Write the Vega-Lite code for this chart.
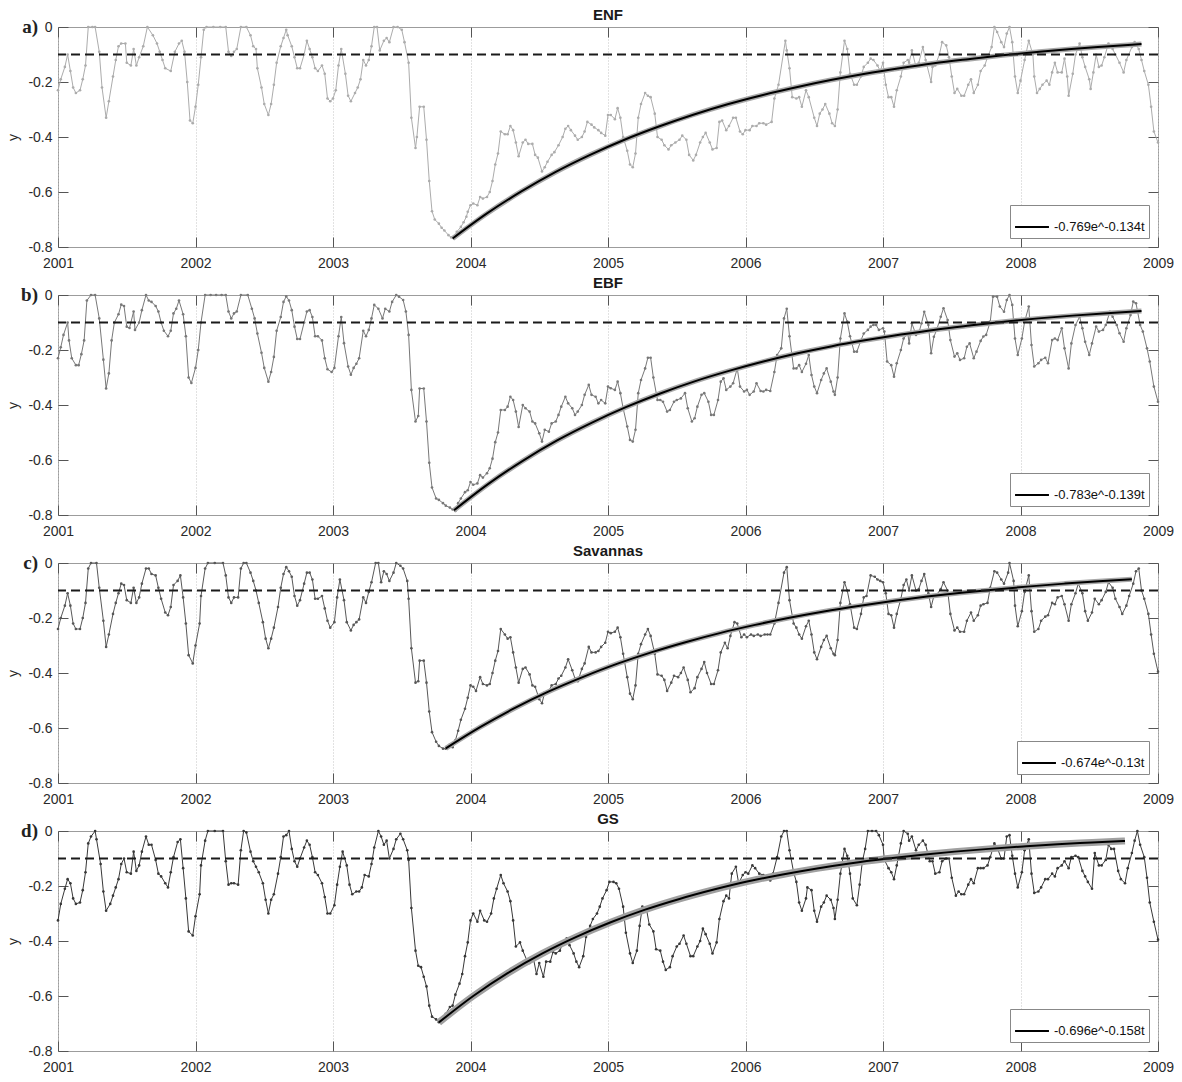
{
"$schema":"https://vega.github.io/schema/vega-lite/v6.json",
"background":"white",
"padding":{"left":6,"top":7,"right":2,"bottom":0},
"spacing":4,
"config":{
"font":"Liberation Sans",
"view":{"stroke":"#9c9c9c","strokeWidth":1},
"title":{"fontSize":15,"fontWeight":"bold","color":"#1a1a1a","offset":-5,"font":"Liberation Sans"},
"axis":{"domain":false,"tickColor":"#555","tickSize":-10,"labelFontSize":14,"labelColor":"#2a2a2a","labelFont":"Liberation Sans","titleFont":"Liberation Sans","titleFontSize":14,"titleFontWeight":"normal","titleColor":"#2a2a2a","grid":false},
"legend":{"orient":"bottom-right","offset":9,"padding":4,"strokeColor":"#888","fillColor":"white","labelFontSize":13,"labelFont":"Liberation Sans","labelColor":"#111","symbolType":"stroke","symbolStrokeWidth":2,"symbolSize":1150,"labelLimit":300,"cornerRadius":0}
},
"datasets":{
"a":[{"t":2001.00,"y":-0.23},{"t":2001.02,"y":-0.19},{"t":2001.05,"y":-0.145},{"t":2001.07,"y":-0.10},{"t":2001.09,"y":-0.16},{"t":2001.11,"y":-0.22},{"t":2001.13,"y":-0.24},{"t":2001.16,"y":-0.23},{"t":2001.18,"y":-0.19},{"t":2001.20,"y":-0.14},{"t":2001.22,"y":0},{"t":2001.25,"y":0},{"t":2001.27,"y":0},{"t":2001.30,"y":-0.09},{"t":2001.32,"y":-0.22},{"t":2001.35,"y":-0.33},{"t":2001.37,"y":-0.27},{"t":2001.40,"y":-0.18},{"t":2001.42,"y":-0.12},{"t":2001.44,"y":-0.07},{"t":2001.46,"y":-0.06},{"t":2001.49,"y":-0.06},{"t":2001.50,"y":-0.13},{"t":2001.53,"y":-0.14},{"t":2001.55,"y":-0.08},{"t":2001.57,"y":-0.14},{"t":2001.59,"y":-0.11},{"t":2001.62,"y":-0.07},{"t":2001.65,"y":0},{"t":2001.69,"y":-0.03},{"t":2001.72,"y":-0.06},{"t":2001.74,"y":-0.09},{"t":2001.76,"y":-0.12},{"t":2001.78,"y":-0.15},{"t":2001.82,"y":-0.16},{"t":2001.85,"y":-0.09},{"t":2001.88,"y":-0.06},{"t":2001.90,"y":-0.05},{"t":2001.92,"y":-0.09},{"t":2001.94,"y":-0.20},{"t":2001.96,"y":-0.34},{"t":2001.98,"y":-0.35},{"t":2002.00,"y":-0.29},{"t":2002.02,"y":-0.21},{"t":2002.04,"y":-0.11},{"t":2002.06,"y":-0.01},{"t":2002.08,"y":0},{"t":2002.13,"y":0},{"t":2002.18,"y":0},{"t":2002.22,"y":0},{"t":2002.24,"y":-0.09},{"t":2002.26,"y":-0.105},{"t":2002.28,"y":-0.09},{"t":2002.30,"y":-0.08},{"t":2002.33,"y":0},{"t":2002.37,"y":0},{"t":2002.40,"y":-0.03},{"t":2002.42,"y":-0.07},{"t":2002.44,"y":-0.08},{"t":2002.45,"y":-0.15},{"t":2002.48,"y":-0.22},{"t":2002.50,"y":-0.28},{"t":2002.53,"y":-0.32},{"t":2002.55,"y":-0.28},{"t":2002.57,"y":-0.21},{"t":2002.59,"y":-0.13},{"t":2002.62,"y":-0.07},{"t":2002.64,"y":-0.04},{"t":2002.66,"y":-0.01},{"t":2002.67,"y":-0.03},{"t":2002.70,"y":-0.07},{"t":2002.72,"y":-0.11},{"t":2002.74,"y":-0.15},{"t":2002.76,"y":-0.15},{"t":2002.79,"y":-0.10},{"t":2002.81,"y":-0.05},{"t":2002.83,"y":-0.08},{"t":2002.85,"y":-0.11},{"t":2002.87,"y":-0.15},{"t":2002.89,"y":-0.16},{"t":2002.92,"y":-0.14},{"t":2002.94,"y":-0.17},{"t":2002.96,"y":-0.26},{"t":2002.98,"y":-0.27},{"t":2003.00,"y":-0.26},{"t":2003.02,"y":-0.23},{"t":2003.04,"y":-0.14},{"t":2003.06,"y":-0.08},{"t":2003.09,"y":-0.17},{"t":2003.11,"y":-0.25},{"t":2003.13,"y":-0.27},{"t":2003.16,"y":-0.24},{"t":2003.18,"y":-0.22},{"t":2003.20,"y":-0.19},{"t":2003.22,"y":-0.12},{"t":2003.24,"y":-0.14},{"t":2003.26,"y":-0.12},{"t":2003.28,"y":-0.07},{"t":2003.30,"y":0},{"t":2003.32,"y":0},{"t":2003.34,"y":-0.085},{"t":2003.37,"y":-0.05},{"t":2003.39,"y":-0.04},{"t":2003.41,"y":-0.055},{"t":2003.44,"y":0},{"t":2003.47,"y":0},{"t":2003.50,"y":-0.01},{"t":2003.52,"y":-0.055},{"t":2003.55,"y":-0.13},{"t":2003.57,"y":-0.33},{"t":2003.60,"y":-0.44},{"t":2003.61,"y":-0.40},{"t":2003.63,"y":-0.29},{"t":2003.66,"y":-0.29},{"t":2003.68,"y":-0.41},{"t":2003.70,"y":-0.56},{"t":2003.72,"y":-0.67},{"t":2003.74,"y":-0.70},{"t":2003.77,"y":-0.715},{"t":2003.79,"y":-0.73},{"t":2003.81,"y":-0.74},{"t":2003.84,"y":-0.757},{"t":2003.86,"y":-0.765},{"t":2003.88,"y":-0.77},{"t":2003.90,"y":-0.745},{"t":2003.93,"y":-0.727},{"t":2003.95,"y":-0.71},{"t":2003.97,"y":-0.69},{"t":2003.98,"y":-0.672},{"t":2004.00,"y":-0.648},{"t":2004.02,"y":-0.642},{"t":2004.05,"y":-0.648},{"t":2004.07,"y":-0.618},{"t":2004.09,"y":-0.624},{"t":2004.12,"y":-0.618},{"t":2004.14,"y":-0.60},{"t":2004.16,"y":-0.56},{"t":2004.18,"y":-0.50},{"t":2004.20,"y":-0.46},{"t":2004.22,"y":-0.38},{"t":2004.25,"y":-0.39},{"t":2004.27,"y":-0.39},{"t":2004.29,"y":-0.36},{"t":2004.31,"y":-0.375},{"t":2004.33,"y":-0.42},{"t":2004.35,"y":-0.47},{"t":2004.38,"y":-0.42},{"t":2004.40,"y":-0.41},{"t":2004.42,"y":-0.425},{"t":2004.45,"y":-0.425},{"t":2004.47,"y":-0.465},{"t":2004.49,"y":-0.475},{"t":2004.52,"y":-0.525},{"t":2004.54,"y":-0.51},{"t":2004.56,"y":-0.49},{"t":2004.59,"y":-0.465},{"t":2004.61,"y":-0.455},{"t":2004.64,"y":-0.43},{"t":2004.67,"y":-0.40},{"t":2004.69,"y":-0.37},{"t":2004.71,"y":-0.36},{"t":2004.73,"y":-0.375},{"t":2004.76,"y":-0.395},{"t":2004.78,"y":-0.41},{"t":2004.81,"y":-0.40},{"t":2004.83,"y":-0.38},{"t":2004.85,"y":-0.345},{"t":2004.88,"y":-0.355},{"t":2004.90,"y":-0.365},{"t":2004.93,"y":-0.375},{"t":2004.95,"y":-0.385},{"t":2004.98,"y":-0.395},{"t":2005.00,"y":-0.32},{"t":2005.02,"y":-0.32},{"t":2005.05,"y":-0.335},{"t":2005.07,"y":-0.295},{"t":2005.09,"y":-0.33},{"t":2005.11,"y":-0.40},{"t":2005.14,"y":-0.45},{"t":2005.16,"y":-0.50},{"t":2005.18,"y":-0.51},{"t":2005.20,"y":-0.46},{"t":2005.22,"y":-0.33},{"t":2005.24,"y":-0.28},{"t":2005.27,"y":-0.24},{"t":2005.29,"y":-0.25},{"t":2005.31,"y":-0.255},{"t":2005.34,"y":-0.315},{"t":2005.36,"y":-0.40},{"t":2005.39,"y":-0.41},{"t":2005.41,"y":-0.43},{"t":2005.44,"y":-0.445},{"t":2005.46,"y":-0.43},{"t":2005.49,"y":-0.42},{"t":2005.52,"y":-0.41},{"t":2005.54,"y":-0.395},{"t":2005.57,"y":-0.41},{"t":2005.59,"y":-0.465},{"t":2005.62,"y":-0.485},{"t":2005.64,"y":-0.465},{"t":2005.67,"y":-0.42},{"t":2005.69,"y":-0.40},{"t":2005.71,"y":-0.385},{"t":2005.74,"y":-0.42},{"t":2005.76,"y":-0.445},{"t":2005.79,"y":-0.44},{"t":2005.81,"y":-0.345},{"t":2005.83,"y":-0.34},{"t":2005.86,"y":-0.375},{"t":2005.88,"y":-0.36},{"t":2005.91,"y":-0.33},{"t":2005.93,"y":-0.33},{"t":2005.96,"y":-0.38},{"t":2005.98,"y":-0.39},{"t":2006.00,"y":-0.375},{"t":2006.03,"y":-0.375},{"t":2006.05,"y":-0.36},{"t":2006.08,"y":-0.36},{"t":2006.10,"y":-0.35},{"t":2006.13,"y":-0.35},{"t":2006.15,"y":-0.355},{"t":2006.19,"y":-0.345},{"t":2006.21,"y":-0.26},{"t":2006.24,"y":-0.21},{"t":2006.29,"y":-0.05},{"t":2006.30,"y":-0.085},{"t":2006.32,"y":-0.15},{"t":2006.34,"y":-0.255},{"t":2006.37,"y":-0.26},{"t":2006.39,"y":-0.255},{"t":2006.41,"y":-0.29},{"t":2006.44,"y":-0.23},{"t":2006.46,"y":-0.255},{"t":2006.50,"y":-0.33},{"t":2006.52,"y":-0.36},{"t":2006.54,"y":-0.315},{"t":2006.56,"y":-0.30},{"t":2006.58,"y":-0.28},{"t":2006.61,"y":-0.315},{"t":2006.63,"y":-0.35},{"t":2006.65,"y":-0.36},{"t":2006.67,"y":-0.30},{"t":2006.69,"y":-0.165},{"t":2006.72,"y":-0.05},{"t":2006.74,"y":-0.08},{"t":2006.76,"y":-0.17},{"t":2006.79,"y":-0.21},{"t":2006.81,"y":-0.21},{"t":2006.84,"y":-0.18},{"t":2006.86,"y":-0.145},{"t":2006.89,"y":-0.13},{"t":2006.91,"y":-0.115},{"t":2006.93,"y":-0.12},{"t":2006.96,"y":-0.14},{"t":2006.98,"y":-0.16},{"t":2007.00,"y":-0.13},{"t":2007.02,"y":-0.21},{"t":2007.04,"y":-0.255},{"t":2007.06,"y":-0.255},{"t":2007.08,"y":-0.29},{"t":2007.10,"y":-0.23},{"t":2007.13,"y":-0.18},{"t":2007.15,"y":-0.13},{"t":2007.18,"y":-0.12},{"t":2007.19,"y":-0.13},{"t":2007.21,"y":-0.085},{"t":2007.24,"y":-0.145},{"t":2007.26,"y":-0.13},{"t":2007.29,"y":-0.073},{"t":2007.31,"y":-0.12},{"t":2007.35,"y":-0.20},{"t":2007.36,"y":-0.145},{"t":2007.38,"y":-0.14},{"t":2007.41,"y":-0.10},{"t":2007.43,"y":-0.055},{"t":2007.46,"y":-0.067},{"t":2007.48,"y":-0.11},{"t":2007.50,"y":-0.18},{"t":2007.52,"y":-0.24},{"t":2007.54,"y":-0.225},{"t":2007.57,"y":-0.25},{"t":2007.59,"y":-0.25},{"t":2007.62,"y":-0.21},{"t":2007.64,"y":-0.19},{"t":2007.66,"y":-0.24},{"t":2007.69,"y":-0.21},{"t":2007.71,"y":-0.16},{"t":2007.74,"y":-0.14},{"t":2007.76,"y":-0.11},{"t":2007.79,"y":-0.073},{"t":2007.81,"y":0},{"t":2007.83,"y":-0.018},{"t":2007.86,"y":-0.055},{"t":2007.88,"y":-0.073},{"t":2007.90,"y":-0.024},{"t":2007.92,"y":0},{"t":2007.94,"y":-0.055},{"t":2007.96,"y":-0.18},{"t":2007.98,"y":-0.24},{"t":2008.00,"y":-0.195},{"t":2008.03,"y":-0.12},{"t":2008.06,"y":-0.05},{"t":2008.09,"y":-0.10},{"t":2008.10,"y":-0.18},{"t":2008.12,"y":-0.24},{"t":2008.14,"y":-0.225},{"t":2008.16,"y":-0.21},{"t":2008.19,"y":-0.195},{"t":2008.21,"y":-0.21},{"t":2008.23,"y":-0.165},{"t":2008.25,"y":-0.13},{"t":2008.27,"y":-0.165},{"t":2008.30,"y":-0.165},{"t":2008.32,"y":-0.115},{"t":2008.34,"y":-0.18},{"t":2008.35,"y":-0.25},{"t":2008.38,"y":-0.17},{"t":2008.40,"y":-0.10},{"t":2008.43,"y":-0.06},{"t":2008.45,"y":-0.11},{"t":2008.47,"y":-0.145},{"t":2008.50,"y":-0.19},{"t":2008.51,"y":-0.225},{"t":2008.53,"y":-0.165},{"t":2008.55,"y":-0.10},{"t":2008.57,"y":-0.145},{"t":2008.59,"y":-0.14},{"t":2008.61,"y":-0.11},{"t":2008.64,"y":-0.06},{"t":2008.67,"y":-0.08},{"t":2008.69,"y":-0.10},{"t":2008.72,"y":-0.13},{"t":2008.75,"y":-0.165},{"t":2008.77,"y":-0.12},{"t":2008.81,"y":-0.073},{"t":2008.83,"y":-0.055},{"t":2008.86,"y":-0.08},{"t":2008.88,"y":-0.12},{"t":2008.90,"y":-0.16},{"t":2008.93,"y":-0.21},{"t":2008.95,"y":-0.29},{"t":2008.97,"y":-0.38},{"t":2009.00,"y":-0.42}],
"b":[{"t":2001.00,"y":-0.23},{"t":2001.02,"y":-0.19},{"t":2001.04,"y":-0.145},{"t":2001.07,"y":-0.10},{"t":2001.08,"y":-0.165},{"t":2001.10,"y":-0.23},{"t":2001.13,"y":-0.255},{"t":2001.15,"y":-0.255},{"t":2001.17,"y":-0.215},{"t":2001.19,"y":-0.165},{"t":2001.21,"y":-0.02},{"t":2001.24,"y":0},{"t":2001.27,"y":0},{"t":2001.30,"y":-0.085},{"t":2001.33,"y":-0.235},{"t":2001.35,"y":-0.34},{"t":2001.37,"y":-0.285},{"t":2001.39,"y":-0.165},{"t":2001.41,"y":-0.10},{"t":2001.44,"y":-0.07},{"t":2001.46,"y":-0.035},{"t":2001.48,"y":-0.04},{"t":2001.50,"y":-0.115},{"t":2001.52,"y":-0.12},{"t":2001.55,"y":-0.06},{"t":2001.56,"y":-0.127},{"t":2001.59,"y":-0.10},{"t":2001.61,"y":-0.055},{"t":2001.64,"y":0},{"t":2001.66,"y":-0.02},{"t":2001.68,"y":-0.025},{"t":2001.71,"y":-0.04},{"t":2001.73,"y":-0.06},{"t":2001.75,"y":-0.10},{"t":2001.77,"y":-0.13},{"t":2001.80,"y":-0.15},{"t":2001.82,"y":-0.13},{"t":2001.84,"y":-0.067},{"t":2001.86,"y":-0.05},{"t":2001.88,"y":-0.02},{"t":2001.91,"y":-0.07},{"t":2001.93,"y":-0.15},{"t":2001.95,"y":-0.30},{"t":2001.97,"y":-0.32},{"t":2002.00,"y":-0.265},{"t":2002.02,"y":-0.20},{"t":2002.04,"y":-0.10},{"t":2002.07,"y":0},{"t":2002.11,"y":0},{"t":2002.15,"y":0},{"t":2002.19,"y":0},{"t":2002.22,"y":0},{"t":2002.24,"y":-0.06},{"t":2002.26,"y":-0.085},{"t":2002.28,"y":-0.067},{"t":2002.30,"y":-0.06},{"t":2002.33,"y":0},{"t":2002.38,"y":0},{"t":2002.41,"y":-0.05},{"t":2002.43,"y":-0.085},{"t":2002.45,"y":-0.14},{"t":2002.48,"y":-0.21},{"t":2002.50,"y":-0.265},{"t":2002.53,"y":-0.315},{"t":2002.55,"y":-0.28},{"t":2002.57,"y":-0.225},{"t":2002.59,"y":-0.13},{"t":2002.62,"y":-0.08},{"t":2002.64,"y":-0.025},{"t":2002.66,"y":-0.005},{"t":2002.68,"y":-0.02},{"t":2002.70,"y":-0.055},{"t":2002.72,"y":-0.115},{"t":2002.74,"y":-0.16},{"t":2002.76,"y":-0.16},{"t":2002.79,"y":-0.10},{"t":2002.81,"y":-0.06},{"t":2002.83,"y":-0.055},{"t":2002.85,"y":-0.08},{"t":2002.87,"y":-0.15},{"t":2002.89,"y":-0.15},{"t":2002.92,"y":-0.165},{"t":2002.94,"y":-0.23},{"t":2002.96,"y":-0.27},{"t":2002.99,"y":-0.28},{"t":2003.01,"y":-0.265},{"t":2003.04,"y":-0.15},{"t":2003.06,"y":-0.08},{"t":2003.08,"y":-0.175},{"t":2003.11,"y":-0.26},{"t":2003.13,"y":-0.29},{"t":2003.15,"y":-0.265},{"t":2003.17,"y":-0.25},{"t":2003.19,"y":-0.23},{"t":2003.22,"y":-0.13},{"t":2003.24,"y":-0.15},{"t":2003.26,"y":-0.127},{"t":2003.28,"y":-0.085},{"t":2003.30,"y":-0.036},{"t":2003.33,"y":-0.05},{"t":2003.36,"y":-0.085},{"t":2003.38,"y":-0.05},{"t":2003.41,"y":-0.06},{"t":2003.43,"y":-0.025},{"t":2003.46,"y":0},{"t":2003.48,"y":-0.006},{"t":2003.51,"y":-0.018},{"t":2003.53,"y":-0.06},{"t":2003.55,"y":-0.145},{"t":2003.57,"y":-0.345},{"t":2003.60,"y":-0.46},{"t":2003.62,"y":-0.44},{"t":2003.63,"y":-0.34},{"t":2003.66,"y":-0.34},{"t":2003.68,"y":-0.46},{"t":2003.70,"y":-0.61},{"t":2003.72,"y":-0.70},{"t":2003.75,"y":-0.74},{"t":2003.77,"y":-0.745},{"t":2003.80,"y":-0.757},{"t":2003.82,"y":-0.766},{"t":2003.85,"y":-0.773},{"t":2003.87,"y":-0.78},{"t":2003.89,"y":-0.785},{"t":2003.91,"y":-0.757},{"t":2003.93,"y":-0.74},{"t":2003.96,"y":-0.717},{"t":2003.98,"y":-0.71},{"t":2004.00,"y":-0.68},{"t":2004.02,"y":-0.69},{"t":2004.05,"y":-0.685},{"t":2004.07,"y":-0.655},{"t":2004.09,"y":-0.664},{"t":2004.12,"y":-0.648},{"t":2004.14,"y":-0.63},{"t":2004.16,"y":-0.595},{"t":2004.18,"y":-0.535},{"t":2004.20,"y":-0.50},{"t":2004.22,"y":-0.418},{"t":2004.25,"y":-0.418},{"t":2004.27,"y":-0.406},{"t":2004.29,"y":-0.37},{"t":2004.31,"y":-0.382},{"t":2004.33,"y":-0.424},{"t":2004.35,"y":-0.48},{"t":2004.38,"y":-0.40},{"t":2004.40,"y":-0.412},{"t":2004.43,"y":-0.424},{"t":2004.45,"y":-0.46},{"t":2004.47,"y":-0.467},{"t":2004.50,"y":-0.503},{"t":2004.52,"y":-0.533},{"t":2004.54,"y":-0.49},{"t":2004.57,"y":-0.497},{"t":2004.59,"y":-0.467},{"t":2004.62,"y":-0.46},{"t":2004.64,"y":-0.436},{"t":2004.66,"y":-0.406},{"t":2004.69,"y":-0.37},{"t":2004.71,"y":-0.394},{"t":2004.74,"y":-0.412},{"t":2004.76,"y":-0.436},{"t":2004.78,"y":-0.424},{"t":2004.81,"y":-0.40},{"t":2004.83,"y":-0.363},{"t":2004.86,"y":-0.327},{"t":2004.88,"y":-0.363},{"t":2004.91,"y":-0.37},{"t":2004.93,"y":-0.394},{"t":2004.95,"y":-0.382},{"t":2004.98,"y":-0.394},{"t":2005.00,"y":-0.333},{"t":2005.02,"y":-0.339},{"t":2005.05,"y":-0.345},{"t":2005.07,"y":-0.315},{"t":2005.09,"y":-0.357},{"t":2005.11,"y":-0.412},{"t":2005.14,"y":-0.478},{"t":2005.16,"y":-0.527},{"t":2005.18,"y":-0.533},{"t":2005.20,"y":-0.49},{"t":2005.22,"y":-0.357},{"t":2005.24,"y":-0.309},{"t":2005.27,"y":-0.267},{"t":2005.29,"y":-0.228},{"t":2005.31,"y":-0.228},{"t":2005.33,"y":-0.30},{"t":2005.36,"y":-0.382},{"t":2005.38,"y":-0.382},{"t":2005.40,"y":-0.388},{"t":2005.43,"y":-0.424},{"t":2005.45,"y":-0.418},{"t":2005.48,"y":-0.388},{"t":2005.50,"y":-0.382},{"t":2005.53,"y":-0.376},{"t":2005.56,"y":-0.357},{"t":2005.58,"y":-0.412},{"t":2005.61,"y":-0.46},{"t":2005.63,"y":-0.448},{"t":2005.65,"y":-0.406},{"t":2005.68,"y":-0.363},{"t":2005.70,"y":-0.357},{"t":2005.73,"y":-0.388},{"t":2005.75,"y":-0.436},{"t":2005.77,"y":-0.436},{"t":2005.80,"y":-0.382},{"t":2005.82,"y":-0.315},{"t":2005.84,"y":-0.303},{"t":2005.86,"y":-0.345},{"t":2005.89,"y":-0.333},{"t":2005.91,"y":-0.321},{"t":2005.94,"y":-0.267},{"t":2005.96,"y":-0.333},{"t":2005.99,"y":-0.351},{"t":2006.01,"y":-0.345},{"t":2006.03,"y":-0.363},{"t":2006.06,"y":-0.351},{"t":2006.08,"y":-0.321},{"t":2006.11,"y":-0.349},{"t":2006.13,"y":-0.351},{"t":2006.15,"y":-0.345},{"t":2006.18,"y":-0.349},{"t":2006.21,"y":-0.28},{"t":2006.23,"y":-0.218},{"t":2006.26,"y":-0.194},{"t":2006.28,"y":-0.085},{"t":2006.30,"y":-0.05},{"t":2006.32,"y":-0.15},{"t":2006.35,"y":-0.267},{"t":2006.37,"y":-0.267},{"t":2006.39,"y":-0.255},{"t":2006.41,"y":-0.28},{"t":2006.44,"y":-0.25},{"t":2006.46,"y":-0.218},{"t":2006.48,"y":-0.291},{"t":2006.50,"y":-0.333},{"t":2006.52,"y":-0.357},{"t":2006.55,"y":-0.309},{"t":2006.57,"y":-0.285},{"t":2006.59,"y":-0.267},{"t":2006.62,"y":-0.315},{"t":2006.64,"y":-0.351},{"t":2006.65,"y":-0.363},{"t":2006.67,"y":-0.30},{"t":2006.69,"y":-0.158},{"t":2006.72,"y":-0.067},{"t":2006.74,"y":-0.097},{"t":2006.76,"y":-0.15},{"t":2006.79,"y":-0.206},{"t":2006.81,"y":-0.206},{"t":2006.84,"y":-0.164},{"t":2006.86,"y":-0.14},{"t":2006.89,"y":-0.127},{"t":2006.91,"y":-0.115},{"t":2006.93,"y":-0.109},{"t":2006.95,"y":-0.109},{"t":2006.97,"y":-0.127},{"t":2007.00,"y":-0.121},{"t":2007.01,"y":-0.133},{"t":2007.03,"y":-0.242},{"t":2007.06,"y":-0.255},{"t":2007.08,"y":-0.297},{"t":2007.10,"y":-0.248},{"t":2007.13,"y":-0.20},{"t":2007.15,"y":-0.158},{"t":2007.18,"y":-0.139},{"t":2007.19,"y":-0.176},{"t":2007.21,"y":-0.103},{"t":2007.24,"y":-0.145},{"t":2007.26,"y":-0.139},{"t":2007.28,"y":-0.103},{"t":2007.30,"y":-0.061},{"t":2007.33,"y":-0.109},{"t":2007.35,"y":-0.212},{"t":2007.37,"y":-0.152},{"t":2007.39,"y":-0.127},{"t":2007.42,"y":-0.079},{"t":2007.44,"y":-0.048},{"t":2007.47,"y":-0.091},{"t":2007.49,"y":-0.164},{"t":2007.52,"y":-0.224},{"t":2007.54,"y":-0.212},{"t":2007.56,"y":-0.236},{"t":2007.59,"y":-0.23},{"t":2007.61,"y":-0.188},{"t":2007.63,"y":-0.176},{"t":2007.66,"y":-0.23},{"t":2007.68,"y":-0.206},{"t":2007.71,"y":-0.167},{"t":2007.73,"y":-0.151},{"t":2007.75,"y":-0.145},{"t":2007.78,"y":-0.097},{"t":2007.80,"y":-0.006},{"t":2007.83,"y":-0.006},{"t":2007.85,"y":-0.042},{"t":2007.88,"y":-0.061},{"t":2007.90,"y":-0.018},{"t":2007.92,"y":0},{"t":2007.94,"y":-0.036},{"t":2007.96,"y":-0.158},{"t":2007.98,"y":-0.218},{"t":2008.01,"y":-0.158},{"t":2008.03,"y":-0.097},{"t":2008.06,"y":-0.042},{"t":2008.08,"y":-0.182},{"t":2008.10,"y":-0.26},{"t":2008.13,"y":-0.248},{"t":2008.15,"y":-0.236},{"t":2008.18,"y":-0.228},{"t":2008.20,"y":-0.248},{"t":2008.23,"y":-0.164},{"t":2008.25,"y":-0.158},{"t":2008.27,"y":-0.164},{"t":2008.30,"y":-0.121},{"t":2008.32,"y":-0.194},{"t":2008.35,"y":-0.267},{"t":2008.37,"y":-0.176},{"t":2008.40,"y":-0.109},{"t":2008.43,"y":-0.079},{"t":2008.45,"y":-0.121},{"t":2008.47,"y":-0.17},{"t":2008.50,"y":-0.218},{"t":2008.52,"y":-0.176},{"t":2008.55,"y":-0.115},{"t":2008.57,"y":-0.133},{"t":2008.60,"y":-0.127},{"t":2008.62,"y":-0.109},{"t":2008.65,"y":-0.061},{"t":2008.67,"y":-0.079},{"t":2008.70,"y":-0.109},{"t":2008.72,"y":-0.139},{"t":2008.75,"y":-0.17},{"t":2008.77,"y":-0.121},{"t":2008.80,"y":-0.073},{"t":2008.82,"y":-0.024},{"t":2008.84,"y":-0.03},{"t":2008.87,"y":-0.109},{"t":2008.89,"y":-0.133},{"t":2008.92,"y":-0.194},{"t":2008.94,"y":-0.242},{"t":2008.97,"y":-0.333},{"t":2009.00,"y":-0.388}],
"c":[{"t":2001.00,"y":-0.24},{"t":2001.02,"y":-0.20},{"t":2001.05,"y":-0.155},{"t":2001.07,"y":-0.11},{"t":2001.09,"y":-0.155},{"t":2001.11,"y":-0.22},{"t":2001.13,"y":-0.24},{"t":2001.16,"y":-0.24},{"t":2001.18,"y":-0.20},{"t":2001.20,"y":-0.145},{"t":2001.22,"y":-0.02},{"t":2001.24,"y":0},{"t":2001.28,"y":0},{"t":2001.30,"y":-0.09},{"t":2001.33,"y":-0.21},{"t":2001.35,"y":-0.305},{"t":2001.37,"y":-0.26},{"t":2001.40,"y":-0.185},{"t":2001.42,"y":-0.145},{"t":2001.44,"y":-0.11},{"t":2001.46,"y":-0.075},{"t":2001.48,"y":-0.08},{"t":2001.50,"y":-0.135},{"t":2001.53,"y":-0.145},{"t":2001.55,"y":-0.09},{"t":2001.57,"y":-0.145},{"t":2001.59,"y":-0.125},{"t":2001.61,"y":-0.075},{"t":2001.64,"y":-0.02},{"t":2001.66,"y":-0.02},{"t":2001.68,"y":-0.04},{"t":2001.71,"y":-0.045},{"t":2001.73,"y":-0.09},{"t":2001.75,"y":-0.13},{"t":2001.78,"y":-0.18},{"t":2001.80,"y":-0.19},{"t":2001.82,"y":-0.16},{"t":2001.84,"y":-0.08},{"t":2001.87,"y":-0.065},{"t":2001.89,"y":-0.045},{"t":2001.91,"y":-0.125},{"t":2001.93,"y":-0.22},{"t":2001.95,"y":-0.335},{"t":2001.98,"y":-0.365},{"t":2002.00,"y":-0.30},{"t":2002.03,"y":-0.22},{"t":2002.04,"y":-0.12},{"t":2002.07,"y":-0.02},{"t":2002.09,"y":0},{"t":2002.14,"y":0},{"t":2002.20,"y":0},{"t":2002.22,"y":-0.045},{"t":2002.24,"y":-0.125},{"t":2002.26,"y":-0.145},{"t":2002.28,"y":-0.125},{"t":2002.31,"y":-0.125},{"t":2002.33,"y":-0.02},{"t":2002.35,"y":0},{"t":2002.37,"y":0},{"t":2002.40,"y":-0.035},{"t":2002.42,"y":-0.065},{"t":2002.44,"y":-0.10},{"t":2002.46,"y":-0.145},{"t":2002.49,"y":-0.215},{"t":2002.51,"y":-0.275},{"t":2002.53,"y":-0.31},{"t":2002.55,"y":-0.275},{"t":2002.57,"y":-0.235},{"t":2002.60,"y":-0.16},{"t":2002.62,"y":-0.09},{"t":2002.64,"y":-0.04},{"t":2002.66,"y":-0.015},{"t":2002.68,"y":-0.03},{"t":2002.70,"y":-0.05},{"t":2002.72,"y":-0.12},{"t":2002.74,"y":-0.155},{"t":2002.76,"y":-0.135},{"t":2002.79,"y":-0.075},{"t":2002.81,"y":-0.035},{"t":2002.83,"y":-0.035},{"t":2002.85,"y":-0.06},{"t":2002.87,"y":-0.13},{"t":2002.89,"y":-0.13},{"t":2002.92,"y":-0.12},{"t":2002.94,"y":-0.165},{"t":2002.96,"y":-0.21},{"t":2002.98,"y":-0.235},{"t":2003.01,"y":-0.215},{"t":2003.03,"y":-0.125},{"t":2003.05,"y":-0.06},{"t":2003.08,"y":-0.135},{"t":2003.10,"y":-0.215},{"t":2003.13,"y":-0.245},{"t":2003.15,"y":-0.225},{"t":2003.17,"y":-0.215},{"t":2003.19,"y":-0.205},{"t":2003.22,"y":-0.125},{"t":2003.24,"y":-0.145},{"t":2003.26,"y":-0.105},{"t":2003.28,"y":-0.07},{"t":2003.31,"y":0},{"t":2003.33,"y":0},{"t":2003.35,"y":-0.07},{"t":2003.37,"y":-0.03},{"t":2003.39,"y":-0.04},{"t":2003.41,"y":-0.065},{"t":2003.44,"y":-0.035},{"t":2003.46,"y":0},{"t":2003.49,"y":-0.01},{"t":2003.51,"y":-0.02},{"t":2003.54,"y":-0.065},{"t":2003.55,"y":-0.13},{"t":2003.57,"y":-0.31},{"t":2003.60,"y":-0.435},{"t":2003.62,"y":-0.43},{"t":2003.63,"y":-0.355},{"t":2003.66,"y":-0.355},{"t":2003.68,"y":-0.435},{"t":2003.70,"y":-0.54},{"t":2003.72,"y":-0.615},{"t":2003.75,"y":-0.65},{"t":2003.77,"y":-0.665},{"t":2003.80,"y":-0.675},{"t":2003.82,"y":-0.675},{"t":2003.85,"y":-0.66},{"t":2003.87,"y":-0.67},{"t":2003.89,"y":-0.645},{"t":2003.91,"y":-0.61},{"t":2003.93,"y":-0.57},{"t":2003.96,"y":-0.53},{"t":2003.98,"y":-0.49},{"t":2004.00,"y":-0.445},{"t":2004.02,"y":-0.45},{"t":2004.04,"y":-0.465},{"t":2004.07,"y":-0.415},{"t":2004.09,"y":-0.44},{"t":2004.12,"y":-0.445},{"t":2004.14,"y":-0.44},{"t":2004.16,"y":-0.40},{"t":2004.18,"y":-0.355},{"t":2004.20,"y":-0.32},{"t":2004.22,"y":-0.24},{"t":2004.25,"y":-0.26},{"t":2004.27,"y":-0.275},{"t":2004.29,"y":-0.27},{"t":2004.31,"y":-0.325},{"t":2004.33,"y":-0.38},{"t":2004.35,"y":-0.435},{"t":2004.38,"y":-0.385},{"t":2004.40,"y":-0.38},{"t":2004.43,"y":-0.405},{"t":2004.45,"y":-0.445},{"t":2004.47,"y":-0.45},{"t":2004.50,"y":-0.495},{"t":2004.52,"y":-0.51},{"t":2004.54,"y":-0.47},{"t":2004.57,"y":-0.465},{"t":2004.59,"y":-0.445},{"t":2004.62,"y":-0.44},{"t":2004.64,"y":-0.42},{"t":2004.66,"y":-0.41},{"t":2004.69,"y":-0.38},{"t":2004.71,"y":-0.35},{"t":2004.74,"y":-0.39},{"t":2004.76,"y":-0.42},{"t":2004.78,"y":-0.43},{"t":2004.81,"y":-0.385},{"t":2004.83,"y":-0.365},{"t":2004.86,"y":-0.305},{"t":2004.88,"y":-0.325},{"t":2004.91,"y":-0.325},{"t":2004.93,"y":-0.32},{"t":2004.95,"y":-0.305},{"t":2004.98,"y":-0.29},{"t":2005.00,"y":-0.25},{"t":2005.02,"y":-0.255},{"t":2005.05,"y":-0.25},{"t":2005.07,"y":-0.235},{"t":2005.09,"y":-0.27},{"t":2005.11,"y":-0.33},{"t":2005.14,"y":-0.415},{"t":2005.16,"y":-0.475},{"t":2005.18,"y":-0.495},{"t":2005.20,"y":-0.445},{"t":2005.22,"y":-0.33},{"t":2005.24,"y":-0.295},{"t":2005.27,"y":-0.26},{"t":2005.29,"y":-0.24},{"t":2005.31,"y":-0.265},{"t":2005.34,"y":-0.33},{"t":2005.36,"y":-0.405},{"t":2005.39,"y":-0.41},{"t":2005.41,"y":-0.425},{"t":2005.43,"y":-0.465},{"t":2005.46,"y":-0.435},{"t":2005.48,"y":-0.41},{"t":2005.51,"y":-0.415},{"t":2005.53,"y":-0.40},{"t":2005.55,"y":-0.38},{"t":2005.58,"y":-0.425},{"t":2005.60,"y":-0.47},{"t":2005.63,"y":-0.455},{"t":2005.65,"y":-0.415},{"t":2005.68,"y":-0.385},{"t":2005.70,"y":-0.36},{"t":2005.72,"y":-0.40},{"t":2005.75,"y":-0.44},{"t":2005.77,"y":-0.44},{"t":2005.80,"y":-0.39},{"t":2005.82,"y":-0.325},{"t":2005.85,"y":-0.29},{"t":2005.87,"y":-0.31},{"t":2005.89,"y":-0.265},{"t":2005.92,"y":-0.215},{"t":2005.94,"y":-0.22},{"t":2005.97,"y":-0.27},{"t":2005.99,"y":-0.26},{"t":2006.01,"y":-0.27},{"t":2006.04,"y":-0.26},{"t":2006.06,"y":-0.265},{"t":2006.09,"y":-0.26},{"t":2006.11,"y":-0.265},{"t":2006.14,"y":-0.26},{"t":2006.16,"y":-0.26},{"t":2006.18,"y":-0.26},{"t":2006.21,"y":-0.22},{"t":2006.24,"y":-0.145},{"t":2006.28,"y":-0.035},{"t":2006.30,"y":-0.015},{"t":2006.32,"y":-0.135},{"t":2006.35,"y":-0.22},{"t":2006.37,"y":-0.235},{"t":2006.39,"y":-0.26},{"t":2006.41,"y":-0.275},{"t":2006.44,"y":-0.23},{"t":2006.46,"y":-0.21},{"t":2006.48,"y":-0.26},{"t":2006.50,"y":-0.325},{"t":2006.52,"y":-0.35},{"t":2006.55,"y":-0.305},{"t":2006.57,"y":-0.28},{"t":2006.59,"y":-0.265},{"t":2006.62,"y":-0.31},{"t":2006.64,"y":-0.33},{"t":2006.65,"y":-0.335},{"t":2006.67,"y":-0.28},{"t":2006.69,"y":-0.145},{"t":2006.72,"y":-0.07},{"t":2006.74,"y":-0.10},{"t":2006.76,"y":-0.15},{"t":2006.79,"y":-0.235},{"t":2006.81,"y":-0.24},{"t":2006.84,"y":-0.185},{"t":2006.86,"y":-0.125},{"t":2006.88,"y":-0.12},{"t":2006.91,"y":-0.045},{"t":2006.94,"y":-0.05},{"t":2006.96,"y":-0.06},{"t":2006.98,"y":-0.065},{"t":2007.00,"y":-0.07},{"t":2007.02,"y":-0.11},{"t":2007.04,"y":-0.185},{"t":2007.06,"y":-0.19},{"t":2007.08,"y":-0.235},{"t":2007.10,"y":-0.185},{"t":2007.13,"y":-0.13},{"t":2007.15,"y":-0.08},{"t":2007.17,"y":-0.06},{"t":2007.19,"y":-0.10},{"t":2007.21,"y":-0.045},{"t":2007.24,"y":-0.10},{"t":2007.26,"y":-0.095},{"t":2007.28,"y":-0.065},{"t":2007.30,"y":-0.04},{"t":2007.33,"y":-0.11},{"t":2007.35,"y":-0.16},{"t":2007.37,"y":-0.12},{"t":2007.39,"y":-0.115},{"t":2007.42,"y":-0.095},{"t":2007.44,"y":-0.07},{"t":2007.47,"y":-0.10},{"t":2007.49,"y":-0.185},{"t":2007.52,"y":-0.245},{"t":2007.54,"y":-0.235},{"t":2007.56,"y":-0.25},{"t":2007.59,"y":-0.25},{"t":2007.61,"y":-0.21},{"t":2007.64,"y":-0.18},{"t":2007.66,"y":-0.21},{"t":2007.69,"y":-0.19},{"t":2007.71,"y":-0.155},{"t":2007.73,"y":-0.15},{"t":2007.76,"y":-0.145},{"t":2007.78,"y":-0.09},{"t":2007.81,"y":-0.03},{"t":2007.83,"y":-0.035},{"t":2007.86,"y":-0.06},{"t":2007.88,"y":-0.075},{"t":2007.91,"y":-0.035},{"t":2007.92,"y":0},{"t":2007.95,"y":-0.065},{"t":2007.96,"y":-0.155},{"t":2007.98,"y":-0.23},{"t":2008.01,"y":-0.175},{"t":2008.03,"y":-0.105},{"t":2008.06,"y":-0.045},{"t":2008.08,"y":-0.175},{"t":2008.10,"y":-0.25},{"t":2008.13,"y":-0.24},{"t":2008.15,"y":-0.21},{"t":2008.18,"y":-0.195},{"t":2008.20,"y":-0.19},{"t":2008.23,"y":-0.145},{"t":2008.25,"y":-0.15},{"t":2008.27,"y":-0.125},{"t":2008.30,"y":-0.12},{"t":2008.32,"y":-0.15},{"t":2008.35,"y":-0.21},{"t":2008.37,"y":-0.15},{"t":2008.40,"y":-0.11},{"t":2008.42,"y":-0.075},{"t":2008.45,"y":-0.11},{"t":2008.47,"y":-0.175},{"t":2008.49,"y":-0.21},{"t":2008.52,"y":-0.18},{"t":2008.54,"y":-0.13},{"t":2008.57,"y":-0.15},{"t":2008.59,"y":-0.135},{"t":2008.62,"y":-0.105},{"t":2008.64,"y":-0.07},{"t":2008.67,"y":-0.09},{"t":2008.69,"y":-0.13},{"t":2008.72,"y":-0.16},{"t":2008.74,"y":-0.185},{"t":2008.77,"y":-0.155},{"t":2008.79,"y":-0.12},{"t":2008.82,"y":-0.075},{"t":2008.84,"y":-0.03},{"t":2008.86,"y":-0.02},{"t":2008.88,"y":-0.10},{"t":2008.90,"y":-0.13},{"t":2008.93,"y":-0.185},{"t":2008.95,"y":-0.26},{"t":2008.97,"y":-0.33},{"t":2009.00,"y":-0.395}],
"d":[{"t":2001.00,"y":-0.325},{"t":2001.02,"y":-0.265},{"t":2001.05,"y":-0.21},{"t":2001.07,"y":-0.175},{"t":2001.09,"y":-0.19},{"t":2001.11,"y":-0.245},{"t":2001.13,"y":-0.265},{"t":2001.16,"y":-0.26},{"t":2001.18,"y":-0.215},{"t":2001.20,"y":-0.15},{"t":2001.22,"y":-0.045},{"t":2001.24,"y":-0.02},{"t":2001.27,"y":0},{"t":2001.28,"y":-0.03},{"t":2001.31,"y":-0.12},{"t":2001.33,"y":-0.22},{"t":2001.35,"y":-0.29},{"t":2001.38,"y":-0.265},{"t":2001.40,"y":-0.235},{"t":2001.42,"y":-0.205},{"t":2001.44,"y":-0.175},{"t":2001.46,"y":-0.12},{"t":2001.48,"y":-0.10},{"t":2001.50,"y":-0.15},{"t":2001.53,"y":-0.155},{"t":2001.55,"y":-0.075},{"t":2001.57,"y":-0.145},{"t":2001.59,"y":-0.125},{"t":2001.61,"y":-0.075},{"t":2001.64,"y":-0.02},{"t":2001.66,"y":-0.05},{"t":2001.68,"y":-0.05},{"t":2001.71,"y":-0.105},{"t":2001.73,"y":-0.155},{"t":2001.75,"y":-0.165},{"t":2001.78,"y":-0.19},{"t":2001.80,"y":-0.205},{"t":2001.82,"y":-0.15},{"t":2001.84,"y":-0.095},{"t":2001.87,"y":-0.04},{"t":2001.89,"y":-0.03},{"t":2001.91,"y":-0.135},{"t":2001.93,"y":-0.245},{"t":2001.95,"y":-0.365},{"t":2001.98,"y":-0.38},{"t":2002.00,"y":-0.31},{"t":2002.03,"y":-0.23},{"t":2002.04,"y":-0.125},{"t":2002.07,"y":-0.035},{"t":2002.09,"y":0},{"t":2002.14,"y":0},{"t":2002.20,"y":0},{"t":2002.22,"y":-0.11},{"t":2002.24,"y":-0.195},{"t":2002.26,"y":-0.19},{"t":2002.28,"y":-0.19},{"t":2002.31,"y":-0.195},{"t":2002.33,"y":-0.07},{"t":2002.35,"y":0},{"t":2002.37,"y":-0.005},{"t":2002.40,"y":-0.075},{"t":2002.42,"y":-0.11},{"t":2002.44,"y":-0.13},{"t":2002.46,"y":-0.15},{"t":2002.49,"y":-0.19},{"t":2002.51,"y":-0.25},{"t":2002.53,"y":-0.30},{"t":2002.55,"y":-0.25},{"t":2002.57,"y":-0.23},{"t":2002.60,"y":-0.155},{"t":2002.62,"y":-0.095},{"t":2002.64,"y":-0.02},{"t":2002.66,"y":-0.015},{"t":2002.68,"y":0},{"t":2002.70,"y":-0.065},{"t":2002.72,"y":-0.11},{"t":2002.74,"y":-0.13},{"t":2002.76,"y":-0.10},{"t":2002.79,"y":-0.06},{"t":2002.81,"y":-0.035},{"t":2002.83,"y":-0.05},{"t":2002.85,"y":-0.095},{"t":2002.87,"y":-0.15},{"t":2002.89,"y":-0.16},{"t":2002.92,"y":-0.19},{"t":2002.94,"y":-0.24},{"t":2002.96,"y":-0.30},{"t":2002.98,"y":-0.30},{"t":2003.01,"y":-0.27},{"t":2003.03,"y":-0.195},{"t":2003.05,"y":-0.13},{"t":2003.07,"y":-0.075},{"t":2003.10,"y":-0.125},{"t":2003.12,"y":-0.195},{"t":2003.14,"y":-0.23},{"t":2003.17,"y":-0.22},{"t":2003.19,"y":-0.22},{"t":2003.21,"y":-0.205},{"t":2003.23,"y":-0.16},{"t":2003.26,"y":-0.165},{"t":2003.28,"y":-0.12},{"t":2003.30,"y":-0.06},{"t":2003.33,"y":0},{"t":2003.35,"y":-0.02},{"t":2003.37,"y":-0.05},{"t":2003.39,"y":-0.035},{"t":2003.41,"y":-0.10},{"t":2003.44,"y":-0.065},{"t":2003.46,"y":-0.03},{"t":2003.49,"y":-0.01},{"t":2003.51,"y":-0.03},{"t":2003.54,"y":-0.07},{"t":2003.55,"y":-0.105},{"t":2003.57,"y":-0.28},{"t":2003.60,"y":-0.435},{"t":2003.62,"y":-0.49},{"t":2003.64,"y":-0.495},{"t":2003.66,"y":-0.53},{"t":2003.68,"y":-0.565},{"t":2003.70,"y":-0.635},{"t":2003.72,"y":-0.675},{"t":2003.75,"y":-0.685},{"t":2003.77,"y":-0.695},{"t":2003.80,"y":-0.685},{"t":2003.82,"y":-0.665},{"t":2003.85,"y":-0.64},{"t":2003.87,"y":-0.635},{"t":2003.89,"y":-0.595},{"t":2003.92,"y":-0.555},{"t":2003.94,"y":-0.52},{"t":2003.96,"y":-0.455},{"t":2003.98,"y":-0.405},{"t":2004.00,"y":-0.325},{"t":2004.02,"y":-0.30},{"t":2004.05,"y":-0.33},{"t":2004.07,"y":-0.29},{"t":2004.10,"y":-0.325},{"t":2004.12,"y":-0.33},{"t":2004.15,"y":-0.30},{"t":2004.17,"y":-0.245},{"t":2004.19,"y":-0.21},{"t":2004.22,"y":-0.16},{"t":2004.24,"y":-0.19},{"t":2004.27,"y":-0.22},{"t":2004.29,"y":-0.255},{"t":2004.31,"y":-0.325},{"t":2004.33,"y":-0.42},{"t":2004.36,"y":-0.405},{"t":2004.38,"y":-0.435},{"t":2004.41,"y":-0.47},{"t":2004.43,"y":-0.48},{"t":2004.46,"y":-0.47},{"t":2004.48,"y":-0.52},{"t":2004.50,"y":-0.48},{"t":2004.53,"y":-0.53},{"t":2004.55,"y":-0.475},{"t":2004.58,"y":-0.475},{"t":2004.60,"y":-0.44},{"t":2004.62,"y":-0.445},{"t":2004.65,"y":-0.435},{"t":2004.67,"y":-0.41},{"t":2004.70,"y":-0.39},{"t":2004.72,"y":-0.415},{"t":2004.75,"y":-0.445},{"t":2004.77,"y":-0.475},{"t":2004.79,"y":-0.495},{"t":2004.82,"y":-0.455},{"t":2004.84,"y":-0.385},{"t":2004.87,"y":-0.345},{"t":2004.89,"y":-0.32},{"t":2004.92,"y":-0.30},{"t":2004.94,"y":-0.275},{"t":2004.96,"y":-0.245},{"t":2004.99,"y":-0.215},{"t":2005.01,"y":-0.185},{"t":2005.04,"y":-0.185},{"t":2005.06,"y":-0.19},{"t":2005.08,"y":-0.21},{"t":2005.11,"y":-0.275},{"t":2005.13,"y":-0.37},{"t":2005.16,"y":-0.445},{"t":2005.18,"y":-0.48},{"t":2005.21,"y":-0.435},{"t":2005.23,"y":-0.345},{"t":2005.25,"y":-0.275},{"t":2005.28,"y":-0.285},{"t":2005.30,"y":-0.34},{"t":2005.33,"y":-0.365},{"t":2005.35,"y":-0.43},{"t":2005.38,"y":-0.435},{"t":2005.40,"y":-0.475},{"t":2005.42,"y":-0.505},{"t":2005.45,"y":-0.495},{"t":2005.47,"y":-0.455},{"t":2005.50,"y":-0.42},{"t":2005.52,"y":-0.41},{"t":2005.55,"y":-0.38},{"t":2005.57,"y":-0.41},{"t":2005.60,"y":-0.455},{"t":2005.62,"y":-0.455},{"t":2005.65,"y":-0.42},{"t":2005.67,"y":-0.40},{"t":2005.69,"y":-0.355},{"t":2005.71,"y":-0.375},{"t":2005.74,"y":-0.41},{"t":2005.76,"y":-0.445},{"t":2005.79,"y":-0.405},{"t":2005.81,"y":-0.32},{"t":2005.84,"y":-0.255},{"t":2005.86,"y":-0.235},{"t":2005.88,"y":-0.245},{"t":2005.90,"y":-0.155},{"t":2005.93,"y":-0.13},{"t":2005.95,"y":-0.19},{"t":2005.98,"y":-0.16},{"t":2006.00,"y":-0.15},{"t":2006.02,"y":-0.155},{"t":2006.05,"y":-0.125},{"t":2006.07,"y":-0.135},{"t":2006.10,"y":-0.155},{"t":2006.13,"y":-0.16},{"t":2006.15,"y":-0.165},{"t":2006.18,"y":-0.18},{"t":2006.20,"y":-0.155},{"t":2006.23,"y":-0.095},{"t":2006.26,"y":-0.02},{"t":2006.28,"y":0},{"t":2006.30,"y":0},{"t":2006.32,"y":-0.07},{"t":2006.35,"y":-0.15},{"t":2006.37,"y":-0.185},{"t":2006.39,"y":-0.26},{"t":2006.41,"y":-0.29},{"t":2006.44,"y":-0.245},{"t":2006.45,"y":-0.205},{"t":2006.48,"y":-0.215},{"t":2006.50,"y":-0.29},{"t":2006.52,"y":-0.33},{"t":2006.55,"y":-0.275},{"t":2006.57,"y":-0.26},{"t":2006.59,"y":-0.235},{"t":2006.62,"y":-0.25},{"t":2006.64,"y":-0.28},{"t":2006.65,"y":-0.32},{"t":2006.67,"y":-0.25},{"t":2006.69,"y":-0.155},{"t":2006.72,"y":-0.065},{"t":2006.74,"y":-0.09},{"t":2006.76,"y":-0.155},{"t":2006.78,"y":-0.245},{"t":2006.81,"y":-0.27},{"t":2006.83,"y":-0.195},{"t":2006.85,"y":-0.11},{"t":2006.87,"y":-0.065},{"t":2006.89,"y":0},{"t":2006.92,"y":0},{"t":2006.95,"y":0},{"t":2006.97,"y":-0.015},{"t":2007.00,"y":-0.05},{"t":2007.01,"y":-0.105},{"t":2007.04,"y":-0.135},{"t":2007.06,"y":-0.15},{"t":2007.08,"y":-0.175},{"t":2007.10,"y":-0.125},{"t":2007.13,"y":-0.045},{"t":2007.15,"y":0},{"t":2007.18,"y":-0.01},{"t":2007.19,"y":-0.035},{"t":2007.21,"y":-0.02},{"t":2007.24,"y":-0.07},{"t":2007.26,"y":-0.05},{"t":2007.29,"y":-0.035},{"t":2007.31,"y":-0.05},{"t":2007.34,"y":-0.11},{"t":2007.36,"y":-0.11},{"t":2007.38,"y":-0.155},{"t":2007.41,"y":-0.15},{"t":2007.43,"y":-0.11},{"t":2007.46,"y":-0.10},{"t":2007.48,"y":-0.10},{"t":2007.50,"y":-0.17},{"t":2007.53,"y":-0.235},{"t":2007.55,"y":-0.22},{"t":2007.57,"y":-0.23},{"t":2007.59,"y":-0.23},{"t":2007.62,"y":-0.195},{"t":2007.64,"y":-0.175},{"t":2007.66,"y":-0.19},{"t":2007.69,"y":-0.135},{"t":2007.71,"y":-0.135},{"t":2007.73,"y":-0.135},{"t":2007.76,"y":-0.125},{"t":2007.78,"y":-0.095},{"t":2007.81,"y":-0.045},{"t":2007.83,"y":-0.06},{"t":2007.86,"y":-0.10},{"t":2007.88,"y":-0.10},{"t":2007.90,"y":-0.02},{"t":2007.92,"y":-0.015},{"t":2007.94,"y":-0.09},{"t":2007.96,"y":-0.155},{"t":2007.98,"y":-0.205},{"t":2008.01,"y":-0.15},{"t":2008.03,"y":-0.07},{"t":2008.06,"y":-0.03},{"t":2008.08,"y":-0.155},{"t":2008.10,"y":-0.225},{"t":2008.13,"y":-0.22},{"t":2008.15,"y":-0.205},{"t":2008.18,"y":-0.175},{"t":2008.20,"y":-0.175},{"t":2008.23,"y":-0.155},{"t":2008.25,"y":-0.165},{"t":2008.27,"y":-0.135},{"t":2008.30,"y":-0.125},{"t":2008.32,"y":-0.11},{"t":2008.35,"y":-0.135},{"t":2008.37,"y":-0.095},{"t":2008.40,"y":-0.09},{"t":2008.42,"y":-0.095},{"t":2008.45,"y":-0.145},{"t":2008.47,"y":-0.165},{"t":2008.49,"y":-0.185},{"t":2008.52,"y":-0.21},{"t":2008.54,"y":-0.08},{"t":2008.57,"y":-0.125},{"t":2008.59,"y":-0.125},{"t":2008.62,"y":-0.105},{"t":2008.64,"y":-0.05},{"t":2008.66,"y":-0.065},{"t":2008.68,"y":-0.065},{"t":2008.71,"y":-0.145},{"t":2008.73,"y":-0.175},{"t":2008.76,"y":-0.19},{"t":2008.78,"y":-0.135},{"t":2008.81,"y":-0.08},{"t":2008.83,"y":-0.035},{"t":2008.85,"y":0},{"t":2008.87,"y":-0.05},{"t":2008.90,"y":-0.095},{"t":2008.92,"y":-0.17},{"t":2008.94,"y":-0.26},{"t":2008.97,"y":-0.33},{"t":2009.00,"y":-0.395}],
"fa":[{"t":2003.87,"f":-0.769},{"t":2004.12,"f":-0.678},{"t":2004.37,"f":-0.598},{"t":2004.62,"f":-0.527},{"t":2004.87,"f":-0.465},{"t":2005.12,"f":-0.410},{"t":2005.37,"f":-0.362},{"t":2005.62,"f":-0.319},{"t":2005.87,"f":-0.281},{"t":2006.12,"f":-0.248},{"t":2006.37,"f":-0.219},{"t":2006.62,"f":-0.193},{"t":2006.87,"f":-0.170},{"t":2007.12,"f":-0.150},{"t":2007.37,"f":-0.132},{"t":2007.62,"f":-0.117},{"t":2007.87,"f":-0.103},{"t":2008.12,"f":-0.091},{"t":2008.37,"f":-0.080},{"t":2008.62,"f":-0.071},{"t":2008.88,"f":-0.062}],
"fb":[{"t":2003.88,"f":-0.783},{"t":2004.13,"f":-0.687},{"t":2004.38,"f":-0.603},{"t":2004.63,"f":-0.529},{"t":2004.88,"f":-0.465},{"t":2005.13,"f":-0.408},{"t":2005.38,"f":-0.358},{"t":2005.63,"f":-0.314},{"t":2005.88,"f":-0.276},{"t":2006.13,"f":-0.242},{"t":2006.38,"f":-0.212},{"t":2006.63,"f":-0.186},{"t":2006.88,"f":-0.164},{"t":2007.13,"f":-0.144},{"t":2007.38,"f":-0.126},{"t":2007.63,"f":-0.111},{"t":2007.88,"f":-0.097},{"t":2008.13,"f":-0.085},{"t":2008.38,"f":-0.075},{"t":2008.63,"f":-0.066},{"t":2008.88,"f":-0.058}],
"fc":[{"t":2003.82,"f":-0.674},{"t":2004.07,"f":-0.597},{"t":2004.32,"f":-0.528},{"t":2004.57,"f":-0.467},{"t":2004.82,"f":-0.414},{"t":2005.07,"f":-0.366},{"t":2005.32,"f":-0.324},{"t":2005.57,"f":-0.287},{"t":2005.82,"f":-0.254},{"t":2006.07,"f":-0.225},{"t":2006.32,"f":-0.199},{"t":2006.57,"f":-0.176},{"t":2006.82,"f":-0.156},{"t":2007.07,"f":-0.138},{"t":2007.32,"f":-0.122},{"t":2007.57,"f":-0.108},{"t":2007.82,"f":-0.096},{"t":2008.07,"f":-0.085},{"t":2008.32,"f":-0.075},{"t":2008.57,"f":-0.066},{"t":2008.81,"f":-0.059}],
"fd":[{"t":2003.77,"f":-0.696},{"t":2004.02,"f":-0.600},{"t":2004.27,"f":-0.517},{"t":2004.52,"f":-0.446},{"t":2004.77,"f":-0.385},{"t":2005.02,"f":-0.332},{"t":2005.27,"f":-0.286},{"t":2005.52,"f":-0.247},{"t":2005.77,"f":-0.213},{"t":2006.02,"f":-0.183},{"t":2006.27,"f":-0.158},{"t":2006.52,"f":-0.136},{"t":2006.77,"f":-0.117},{"t":2007.02,"f":-0.101},{"t":2007.27,"f":-0.087},{"t":2007.52,"f":-0.075},{"t":2007.77,"f":-0.065},{"t":2008.02,"f":-0.056},{"t":2008.27,"f":-0.048},{"t":2008.52,"f":-0.042},{"t":2008.76,"f":-0.036}],
"one":[{"k":1}]
},
"vconcat":[
{"width":1100,"height":220,"title":{"text":"ENF","frame":"group"},
"resolve":{"axis":{"x":"independent","y":"independent"}},
"layer":[
{"data":{"name":"a"},"mark":{"type":"line","color":"#acacac","strokeWidth":1,"point":{"filled":true,"size":7,"color":"#acacac"}},
"encoding":{"x":{"field":"t","type":"quantitative","scale":{"domain":[2001,2009],"nice":false,"zero":false},"axis":{"orient":"bottom","values":[2001,2002,2003,2004,2005,2006,2007,2008,2009],"format":"d","labelFlush":false,"grid":true,"gridColor":"#c4c4c4","gridDash":[1,2],"labelPadding":19,"title":null}},
"y":{"field":"y","type":"quantitative","scale":{"domain":[-0.8,0],"nice":false,"zero":false},"axis":{"orient":"left","values":[-0.8,-0.6,-0.4,-0.2,0],"labelExpr":"datum.value == 0 ? '0' : '-' + format(-datum.value, '.1f')","labelPadding":16,"title":"y","titlePadding":7}}}},
{"data":{"name":"fa"},"mark":{"type":"line","color":"#a8a8a8","strokeWidth":5,"interpolate":"monotone"},
"encoding":{"x":{"field":"t","type":"quantitative","axis":{"orient":"top","values":[2001,2002,2003,2004,2005,2006,2007,2008,2009],"labels":false,"title":null,"grid":false}},"y":{"field":"f","type":"quantitative","axis":{"orient":"right","values":[-0.8,-0.6,-0.4,-0.2,0],"labels":false,"title":null}}}},
{"data":{"name":"fa"},"mark":{"type":"line","strokeWidth":2,"interpolate":"monotone"},
"encoding":{"x":{"field":"t","type":"quantitative","axis":null},"y":{"field":"f","type":"quantitative","axis":null},"color":{"datum":"-0.769e^-0.134t","type":"nominal","scale":{"range":["#000000"]},"legend":{"title":null}}}},
{"data":{"name":"one"},"mark":{"type":"rule","strokeDash":[9,5],"strokeWidth":2,"color":"#1a1a1a"},"encoding":{"y":{"datum":-0.1,"type":"quantitative","axis":null}}},
{"data":{"name":"one"},"mark":{"type":"text","text":"a)","font":"Liberation Serif","fontWeight":"bold","fontSize":19,"align":"right","baseline":"middle","dx":-20,"color":"#222"},"encoding":{"x":{"datum":2001,"type":"quantitative","axis":null},"y":{"datum":0,"type":"quantitative","axis":null}}}
]},
{"width":1100,"height":220,"title":{"text":"EBF","frame":"group"},
"resolve":{"axis":{"x":"independent","y":"independent"}},
"layer":[
{"data":{"name":"b"},"mark":{"type":"line","color":"#787878","strokeWidth":1,"point":{"filled":true,"size":7,"color":"#787878"}},
"encoding":{"x":{"field":"t","type":"quantitative","scale":{"domain":[2001,2009],"nice":false,"zero":false},"axis":{"orient":"bottom","values":[2001,2002,2003,2004,2005,2006,2007,2008,2009],"format":"d","labelFlush":false,"grid":true,"gridColor":"#c4c4c4","gridDash":[1,2],"labelPadding":19,"title":null}},
"y":{"field":"y","type":"quantitative","scale":{"domain":[-0.8,0],"nice":false,"zero":false},"axis":{"orient":"left","values":[-0.8,-0.6,-0.4,-0.2,0],"labelExpr":"datum.value == 0 ? '0' : '-' + format(-datum.value, '.1f')","labelPadding":16,"title":"y","titlePadding":7}}}},
{"data":{"name":"fb"},"mark":{"type":"line","color":"#a8a8a8","strokeWidth":5,"interpolate":"monotone"},
"encoding":{"x":{"field":"t","type":"quantitative","axis":{"orient":"top","values":[2001,2002,2003,2004,2005,2006,2007,2008,2009],"labels":false,"title":null,"grid":false}},"y":{"field":"f","type":"quantitative","axis":{"orient":"right","values":[-0.8,-0.6,-0.4,-0.2,0],"labels":false,"title":null}}}},
{"data":{"name":"fb"},"mark":{"type":"line","strokeWidth":2,"interpolate":"monotone"},
"encoding":{"x":{"field":"t","type":"quantitative","axis":null},"y":{"field":"f","type":"quantitative","axis":null},"color":{"datum":"-0.783e^-0.139t","type":"nominal","scale":{"range":["#000000"]},"legend":{"title":null}}}},
{"data":{"name":"one"},"mark":{"type":"rule","strokeDash":[9,5],"strokeWidth":2,"color":"#1a1a1a"},"encoding":{"y":{"datum":-0.1,"type":"quantitative","axis":null}}},
{"data":{"name":"one"},"mark":{"type":"text","text":"b)","font":"Liberation Serif","fontWeight":"bold","fontSize":19,"align":"right","baseline":"middle","dx":-20,"color":"#222"},"encoding":{"x":{"datum":2001,"type":"quantitative","axis":null},"y":{"datum":0,"type":"quantitative","axis":null}}}
]},
{"width":1100,"height":220,"title":{"text":"Savannas","frame":"group"},
"resolve":{"axis":{"x":"independent","y":"independent"}},
"layer":[
{"data":{"name":"c"},"mark":{"type":"line","color":"#585858","strokeWidth":1,"point":{"filled":true,"size":7,"color":"#585858"}},
"encoding":{"x":{"field":"t","type":"quantitative","scale":{"domain":[2001,2009],"nice":false,"zero":false},"axis":{"orient":"bottom","values":[2001,2002,2003,2004,2005,2006,2007,2008,2009],"format":"d","labelFlush":false,"grid":true,"gridColor":"#c4c4c4","gridDash":[1,2],"labelPadding":19,"title":null}},
"y":{"field":"y","type":"quantitative","scale":{"domain":[-0.8,0],"nice":false,"zero":false},"axis":{"orient":"left","values":[-0.8,-0.6,-0.4,-0.2,0],"labelExpr":"datum.value == 0 ? '0' : '-' + format(-datum.value, '.1f')","labelPadding":16,"title":"y","titlePadding":7}}}},
{"data":{"name":"fc"},"mark":{"type":"line","color":"#a8a8a8","strokeWidth":5,"interpolate":"monotone"},
"encoding":{"x":{"field":"t","type":"quantitative","axis":{"orient":"top","values":[2001,2002,2003,2004,2005,2006,2007,2008,2009],"labels":false,"title":null,"grid":false}},"y":{"field":"f","type":"quantitative","axis":{"orient":"right","values":[-0.8,-0.6,-0.4,-0.2,0],"labels":false,"title":null}}}},
{"data":{"name":"fc"},"mark":{"type":"line","strokeWidth":2,"interpolate":"monotone"},
"encoding":{"x":{"field":"t","type":"quantitative","axis":null},"y":{"field":"f","type":"quantitative","axis":null},"color":{"datum":"-0.674e^-0.13t","type":"nominal","scale":{"range":["#000000"]},"legend":{"title":null}}}},
{"data":{"name":"one"},"mark":{"type":"rule","strokeDash":[9,5],"strokeWidth":2,"color":"#1a1a1a"},"encoding":{"y":{"datum":-0.1,"type":"quantitative","axis":null}}},
{"data":{"name":"one"},"mark":{"type":"text","text":"c)","font":"Liberation Serif","fontWeight":"bold","fontSize":19,"align":"right","baseline":"middle","dx":-20,"color":"#222"},"encoding":{"x":{"datum":2001,"type":"quantitative","axis":null},"y":{"datum":0,"type":"quantitative","axis":null}}}
]},
{"width":1100,"height":220,"title":{"text":"GS","frame":"group"},
"resolve":{"axis":{"x":"independent","y":"independent"}},
"layer":[
{"data":{"name":"d"},"mark":{"type":"line","color":"#383838","strokeWidth":1,"point":{"filled":true,"size":7,"color":"#383838"}},
"encoding":{"x":{"field":"t","type":"quantitative","scale":{"domain":[2001,2009],"nice":false,"zero":false},"axis":{"orient":"bottom","values":[2001,2002,2003,2004,2005,2006,2007,2008,2009],"format":"d","labelFlush":false,"grid":true,"gridColor":"#c4c4c4","gridDash":[1,2],"labelPadding":19,"title":null}},
"y":{"field":"y","type":"quantitative","scale":{"domain":[-0.8,0],"nice":false,"zero":false},"axis":{"orient":"left","values":[-0.8,-0.6,-0.4,-0.2,0],"labelExpr":"datum.value == 0 ? '0' : '-' + format(-datum.value, '.1f')","labelPadding":16,"title":"y","titlePadding":7}}}},
{"data":{"name":"fd"},"mark":{"type":"line","color":"#a0a0a0","strokeWidth":7,"interpolate":"monotone"},
"encoding":{"x":{"field":"t","type":"quantitative","axis":{"orient":"top","values":[2001,2002,2003,2004,2005,2006,2007,2008,2009],"labels":false,"title":null,"grid":false}},"y":{"field":"f","type":"quantitative","axis":{"orient":"right","values":[-0.8,-0.6,-0.4,-0.2,0],"labels":false,"title":null}}}},
{"data":{"name":"fd"},"mark":{"type":"line","strokeWidth":2,"interpolate":"monotone"},
"encoding":{"x":{"field":"t","type":"quantitative","axis":null},"y":{"field":"f","type":"quantitative","axis":null},"color":{"datum":"-0.696e^-0.158t","type":"nominal","scale":{"range":["#000000"]},"legend":{"title":null}}}},
{"data":{"name":"one"},"mark":{"type":"rule","strokeDash":[9,5],"strokeWidth":2,"color":"#1a1a1a"},"encoding":{"y":{"datum":-0.1,"type":"quantitative","axis":null}}},
{"data":{"name":"one"},"mark":{"type":"text","text":"d)","font":"Liberation Serif","fontWeight":"bold","fontSize":19,"align":"right","baseline":"middle","dx":-20,"color":"#222"},"encoding":{"x":{"datum":2001,"type":"quantitative","axis":null},"y":{"datum":0,"type":"quantitative","axis":null}}}
]}
],
"resolve":{"scale":{"color":"independent"}}
}
